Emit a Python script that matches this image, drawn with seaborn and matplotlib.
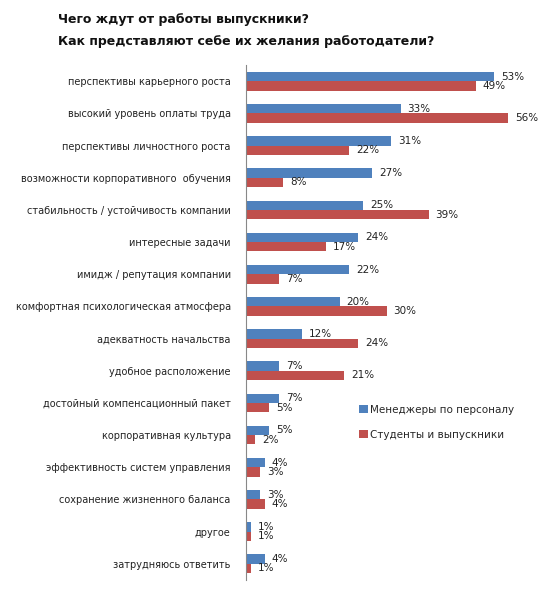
import numpy as np
import pandas as pd
import seaborn as sns
import matplotlib.pyplot as plt

categories = [
    'перспективы карьерного роста',
    'высокий уровень оплаты труда',
    'перспективы личностного роста',
    'возможности корпоративного  обучения',
    'стабильность / устойчивость компании',
    'интересные задачи',
    'имидж / репутация компании',
    'комфортная психологическая атмосфера',
    'адекватность начальства',
    'удобное расположение',
    'достойный компенсационный пакет',
    'корпоративная культура',
    'эффективность систем управления',
    'сохранение жизненного баланса',
    'другое',
    'затрудняюсь ответить',
]
managers = [53, 33, 31, 27, 25, 24, 22, 20, 12, 7, 7, 5, 4, 3, 1, 4]
students = [49, 56, 22, 8, 39, 17, 7, 30, 24, 21, 5, 2, 3, 4, 1, 1]
series_names = ['Менеджеры по персоналу', 'Студенты и выпускники']
colors = ['#4F81BD', '#C0504D']

df = pd.DataFrame({
    'category': categories * 2,
    'value': managers + students,
    'series': [series_names[0]] * len(categories) + [series_names[1]] * len(categories),
})

sns.set_style('white')
plt.rcParams['font.family'] = ['DejaVu Sans']

fig = plt.figure(figsize=(5.51, 6.04), dpi=100)
ax = fig.add_axes([0.4465, 0.040, 0.51, 0.852])

sns.barplot(data=df, x='value', y='category', hue='series', orient='h',
            palette=colors, width=0.58, gap=0, linewidth=0, ax=ax,
            legend=True, saturation=1)

for cont in ax.containers:
    ax.bar_label(cont, labels=[f'{v:.0f}%' for v in cont.datavalues],
                 padding=5, fontsize=7.5, color='#222222')

ax.set_xlim(0, 60)
ax.set_ylim(len(categories) - 0.5, -0.5)
ax.set_xlabel('')
ax.set_ylabel('')
ax.set_xticks([])
ax.tick_params(axis='y', which='major', length=0, pad=11, labelsize=7, labelcolor='#222222')
ax.set_yticks(np.arange(len(categories) + 1) - 0.5, minor=True)
ax.tick_params(axis='y', which='minor', length=4, color='#888888', direction='out')
for side in ['top', 'right', 'bottom']:
    ax.spines[side].set_visible(False)
ax.spines['left'].set_color('#888888')
ax.grid(False)

handles, labels = ax.get_legend_handles_labels()
ax.get_legend().remove()
fig.legend(handles, labels, loc='upper left', bbox_to_anchor=(0.635, 0.345),
           frameon=False, fontsize=7.5, handlelength=0.8, handleheight=0.8,
           handletextpad=0.2, labelspacing=1.4)

fig.text(0.105, 0.967, 'Чего ждут от работы выпускники?', fontsize=9,
         fontweight='bold', va='center', ha='left', color='#111111')
fig.text(0.105, 0.932, 'Как представляют себе их желания работодатели?', fontsize=9,
         fontweight='bold', va='center', ha='left', color='#111111')

fig.savefig('out.png', dpi=100)
